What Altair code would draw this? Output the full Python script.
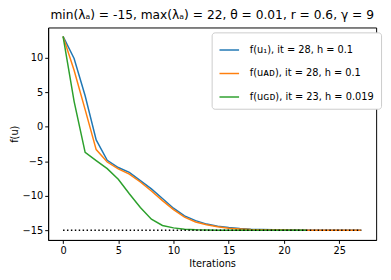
import altair as alt
import pandas as pd

iters = list(range(28))
u1 = [13.1, 9.9, 4.5, -1.9, -4.85, -5.9, -6.6, -7.8, -9.0, -10.4, -11.8, -12.9, -13.6, -14.1,
      -14.4, -14.6, -14.75, -14.85, -14.9, -14.93, -14.95, -14.97, -14.98, -14.99, -14.99,
      -15.0, -15.0, -15.0]
uAD = [13.1, 8.2, 2.5, -3.3, -5.1, -6.1, -6.85, -8.0, -9.3, -10.7, -12.0, -13.1, -13.8, -14.2,
       -14.5, -14.7, -14.8, -14.88, -14.92, -14.95, -14.97, -14.98, -14.99, -14.99, -15.0,
       -15.0, -15.0, -15.0]
uGD = [13.1, 3.7, -3.7, -4.9, -6.06, -7.6, -9.7, -11.7, -13.4, -14.3, -14.65, -14.85, -14.93,
       -14.97, -14.98, -14.99, -15.0, -15.0, -15.0, -15.0, -15.0, -15.0, -15.0]
min_val = [-15.0] * 28

labels = ["f(u₁), it = 28, h = 0.1",
          "f(uᴀᴅ), it = 28, h = 0.1",
          "f(uɢᴅ), it = 23, h = 0.019"]
colors = ["#1f77b4", "#ff7f0e", "#2ca02c"]

df1 = pd.DataFrame({"it": iters, "f": u1, "s": labels[0]})
df2 = pd.DataFrame({"it": iters, "f": uAD, "s": labels[1]})
df3 = pd.DataFrame({"it": iters[:len(uGD)], "f": uGD, "s": labels[2]})
dfm = pd.DataFrame({"it": iters, "f": min_val})

FONT = "DejaVu Sans"
minus = "replace(datum.label, '-', '\u2212')"

x = alt.X("it:Q", title="Iterations",
          scale=alt.Scale(domain=[-1.35, 28.35], nice=False, zero=False),
          axis=alt.Axis(values=[0, 5, 10, 15, 20, 25], grid=False, labelExpr=minus))
y = alt.Y("f:Q", title="f(u)",
          scale=alt.Scale(domain=[-16.4, 14.4], nice=False, zero=False),
          axis=alt.Axis(values=[-15, -10, -5, 0, 5, 10], grid=False, labelExpr=minus))
color = alt.Color("s:N", scale=alt.Scale(domain=labels, range=colors),
                  legend=alt.Legend(title=None))

def series(df):
    return alt.Chart(df).mark_line(strokeWidth=1.5).encode(x=x, y=y, color=color)

dotted = alt.Chart(dfm).mark_line(strokeWidth=1.5, color="black",
                                  strokeDash=[1.5, 2.5]).encode(x=x, y=y)

chart = alt.layer(series(df1), series(df2), series(df3), dotted).properties(
    width=335, height=217,
    autosize=alt.AutoSizeParams(type="none"),
    padding={"left": 41, "top": 17, "right": 7, "bottom": 38},
    title=alt.TitleParams(
        text="min(λₐ) = -15, max(λₐ) = 22, θ = 0.01, r = 0.6, γ = 9",
        fontSize=12.5, font=FONT, fontWeight="normal", anchor="middle",
        offset=6, color="black"),
).configure_view(stroke="black", strokeWidth=1
).configure_axis(
    labelFont=FONT, titleFont=FONT, labelFontSize=10, titleFontSize=10,
    titleFontWeight="normal", labelColor="black", titleColor="black",
    domainColor="black", tickColor="black", tickSize=3.5, labelPadding=2,
).configure_axisX(titlePadding=4).configure_axisY(titlePadding=3
).configure_legend(
    orient="none", legendX=167, legendY=5, fillColor="white",
    strokeColor="#cccccc", cornerRadius=3, padding=7, rowPadding=8,
    symbolType="stroke", symbolSize=400, symbolStrokeWidth=1.5,
    labelFont=FONT, labelFontSize=10, labelColor="black", labelLimit=300,
    labelOffset=10,
)

chart.save("out.html", embed_options={"renderer": "svg", "actions": False})
